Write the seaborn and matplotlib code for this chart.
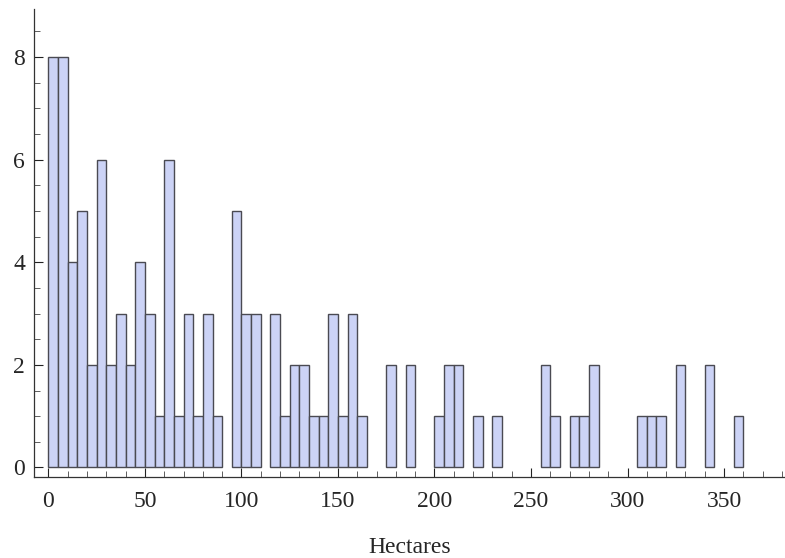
import numpy as np
import pandas as pd
import matplotlib
matplotlib.use("Agg")
import matplotlib.pyplot as plt
import seaborn as sns
from matplotlib.ticker import MultipleLocator

# Histogram of areas (hectares), bins of width 5
bin_starts = [0, 5, 10, 15, 20, 25, 30, 35, 40, 45, 50, 55, 60, 65, 70, 75, 80, 85,
              95, 100, 105, 115, 120, 125, 130, 135, 140, 145, 150, 155, 160,
              175, 185, 200, 205, 210, 220, 230, 255, 260, 270, 275, 280,
              305, 310, 315, 325, 340, 355]
counts = [8, 8, 4, 5, 2, 6, 2, 3, 2, 4, 3, 1, 6, 1, 3, 1, 3, 1,
          5, 3, 3, 3, 1, 2, 2, 1, 1, 3, 1, 3, 1,
          2, 2, 1, 2, 2, 1, 1, 2, 1, 1, 1, 2,
          1, 1, 1, 2, 2, 1]
x_label = "Hectares"
x_ticks = [0, 50, 100, 150, 200, 250, 300, 350]
y_ticks = [0, 2, 4, 6, 8]

df = pd.DataFrame({"start": bin_starts, "count": counts})

sns.set_style("white")
plt.rcParams["font.family"] = ["Liberation Serif", "DejaVu Serif"]

fig = plt.figure(figsize=(7.85, 5.58), dpi=100)
L, R, B, T = 34, 785, 476.7, 9.3
ax = fig.add_axes([L / 785, 1 - B / 558, (R - L) / 785, (B - T) / 558])

sns.histplot(data=df, x="start", weights="count", binwidth=5, binrange=(0, 360), ax=ax,
             color="#ccd3f6", edgecolor="#4a4a52", linewidth=1.0, alpha=1.0)

# remove empty bins
for p in list(ax.patches):
    if p.get_height() == 0:
        p.remove()

ax.set_xlim(-7.5, 381.6)
ax.set_ylim(-0.18, 8.93)
ax.set_xticks(x_ticks)
ax.set_yticks(y_ticks)
ax.xaxis.set_minor_locator(MultipleLocator(10))
ax.yaxis.set_minor_locator(MultipleLocator(0.5))
ax.tick_params(axis="both", which="major", direction="in", length=6.5, width=0.8,
               color="#222222", labelsize=17)
ax.tick_params(axis="both", which="minor", direction="in", length=4, width=0.6,
               color="#444444")
ax.tick_params(axis="x", which="major", pad=10)
ax.tick_params(axis="y", which="major", pad=6.5)
ax.tick_params(axis="y", which="both", left=True)
ax.tick_params(axis="x", which="both", bottom=True)

for s in ["top", "right"]:
    ax.spines[s].set_visible(False)
for s in ["left", "bottom"]:
    ax.spines[s].set_color("#333333")
    ax.spines[s].set_linewidth(0.9)

ax.set_ylabel("")
ax.set_xlabel(x_label, fontsize=17, labelpad=18)

fig.savefig("out.png", dpi=100)
